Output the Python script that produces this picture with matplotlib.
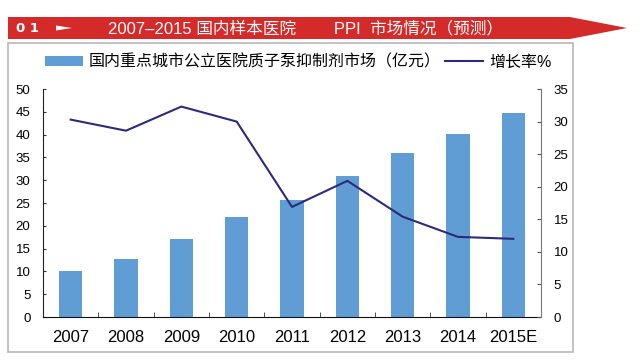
import matplotlib
matplotlib.use("Agg")
import matplotlib.pyplot as plt
from matplotlib.patches import Polygon, Rectangle, Patch
from matplotlib.lines import Line2D
import numpy as np

years = ["2007", "2008", "2009", "2010", "2011", "2012", "2013", "2014", "2015E"]
market = [10, 12.8, 17, 22, 25.7, 30.9, 35.9, 40.1, 44.8]
growth = [30.3, 28.6, 32.3, 30.0, 16.9, 20.9, 15.4, 12.3, 12.0]
left_ticks = list(range(0, 51, 5))
right_ticks = list(range(0, 36, 5))

title = "2007–2015 国内样本医院\u3000\u3000 PPI  市场情况（预测）"
bar_label = "国内重点城市公立医院质子泵抑制剂市场（亿元）"
line_label = "增长率%"

W, H = 640, 364
fig = plt.figure(figsize=(W / 100, H / 100), dpi=100)
fig.patch.set_facecolor("white")

def fx(px):
    return px / W

def fy(py):
    return 1 - py / H

cjk = ["Liberation Sans", "Noto Sans CJK SC", "DejaVu Sans"]
latin = ["Liberation Sans", "DejaVu Sans"]

# outer frame
fig.patches.append(Rectangle((fx(8), fy(352)), fx(573) - fx(8), fy(43) - fy(352),
                             transform=fig.transFigure, facecolor="none",
                             edgecolor="#B8B8B8", lw=1.2, zorder=0))

# banner
banner = [(8, 17), (570, 17), (627, 28), (570, 39), (8, 39)]
fig.patches.append(Polygon([(fx(x), fy(y)) for x, y in banner], closed=True,
                           transform=fig.transFigure, facecolor="#D42A2A",
                           edgecolor="none", zorder=1))
fig.text(fx(16), fy(28.5), "0 1", color="white", fontsize=9.5, fontweight="bold",
         family="DejaVu Sans", va="center", ha="left", zorder=3)
arrow = [(56, 25.5), (72, 28), (56, 30.5)]
fig.patches.append(Polygon([(fx(x), fy(y)) for x, y in arrow], closed=True,
                           transform=fig.transFigure, facecolor="white",
                           edgecolor="none", zorder=2))
fig.text(fx(108), fy(28.5), title, color="white", fontsize=12, family=cjk,
         va="center", ha="left", zorder=3)

# axes
ax = fig.add_axes([fx(43), fy(317), fx(541) - fx(43), fy(89) - fy(317)])
x = np.arange(len(years))
ax.bar(x, market, width=0.42, color="#5F9DD4", zorder=2)
ax.set_xlim(-0.5, len(years) - 0.5)
ax.set_ylim(0, 50)
ax.set_yticks(left_ticks)
ax.set_yticklabels([str(t) for t in left_ticks], family=latin, fontsize=9.5)
ax.set_xticks(x)
ax.set_xticklabels(years, family=latin, fontsize=12)
ax.set_xticks(np.arange(len(years) - 1) + 0.5, minor=True)
ax.tick_params(axis="x", which="major", length=0, pad=9)
ax.tick_params(axis="x", which="minor", direction="in", length=3.5, color="#333333")
ax.tick_params(axis="y", direction="in", length=2.5, pad=9, color="#333333")
ax.spines["top"].set_visible(False)
ax.spines["right"].set_visible(False)
ax.spines["left"].set_color("#222222")
ax.spines["bottom"].set_color("#111111")
ax.set_facecolor("none")

ax2 = ax.twinx()
ax2.plot(x, growth, color="#2D2A7C", lw=1.5, zorder=3)
ax2.set_ylim(0, 35)
ax2.set_yticks(right_ticks)
ax2.set_yticklabels([str(t) for t in right_ticks], family=latin, fontsize=9.5)
ax2.tick_params(axis="y", direction="in", length=3, pad=9, color="#555555")
ax2.spines["top"].set_visible(False)
ax2.spines["left"].set_visible(False)
ax2.spines["bottom"].set_visible(False)
ax2.spines["right"].set_color("#777777")

handles = [Patch(facecolor="#5F9DD4", edgecolor="none", label=bar_label),
           Line2D([], [], color="#2D2A7C", lw=1.5, label=line_label)]
fig.legend(handles=handles, loc="center left", ncol=2,
           bbox_to_anchor=(fx(45), fy(62)), bbox_transform=fig.transFigure,
           frameon=False, borderpad=0, borderaxespad=0, handlelength=2.4,
           handleheight=0.6, handletextpad=0.35, columnspacing=0.25,
           prop={"family": cjk, "size": 11.5})

fig.savefig("out.png", dpi=100, facecolor="white")
